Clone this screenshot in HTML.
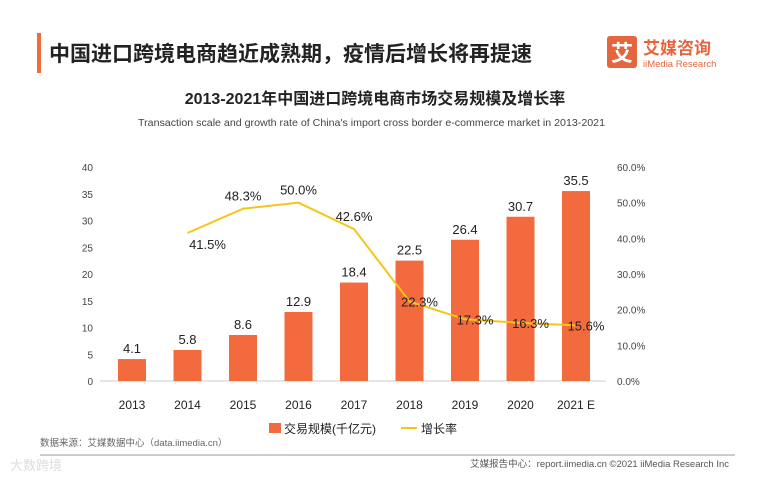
<!DOCTYPE html>
<html><head><meta charset="utf-8">
<style>
body{margin:0;background:#fff;width:761px;height:479px;overflow:hidden;font-family:"Liberation Sans","Noto Sans CJK SC",sans-serif;}
</style></head>
<body>
<svg width="761" height="479" xmlns="http://www.w3.org/2000/svg" style="position:absolute;left:0;top:0" font-family="Liberation Sans, Noto Sans CJK SC, sans-serif">
<rect x="37" y="33" width="4" height="40" fill="#f26a3d"/>
<text x="49" y="61" font-size="21" font-weight="bold" fill="#222">中国进口跨境电商趋近成熟期，疫情后增长将再提速</text>
<g>
<rect x="607" y="36" width="30" height="32" rx="3" fill="#e4663f"/>
<text x="622" y="61" font-size="22" font-weight="bold" fill="#fff" text-anchor="middle">艾</text>
<text x="643" y="54" font-size="17" font-weight="bold" fill="#e4663f">艾媒咨询</text>
<text x="643" y="67" font-size="9.5" fill="#e4663f">iiMedia Research</text>
</g>
<text x="375" y="104" font-size="16" font-weight="bold" fill="#222" text-anchor="middle">2013-2021年中国进口跨境电商市场交易规模及增长率</text>
<text x="138" y="126" font-size="10.5" fill="#444" textLength="467" lengthAdjust="spacingAndGlyphs">Transaction scale and growth rate of China's import cross border e-commerce market in 2013-2021</text>
<g id="chart"></g>
<g>
<rect x="269" y="423" width="12" height="10" fill="#f26a3d"/>
<text x="284" y="433" font-size="12" fill="#222">交易规模(千亿元)</text>
<line x1="401" y1="428" x2="417" y2="428" stroke="#f5c518" stroke-width="2"/>
<text x="421" y="433" font-size="12" fill="#222">增长率</text>
</g>
<text x="40" y="446" font-size="9.5" fill="#666">数据来源：艾媒数据中心（data.iimedia.cn）</text>
<line x1="40" y1="455" x2="735" y2="455" stroke="#999" stroke-width="1"/>
<text x="10" y="470" font-size="13" fill="#ddd">大数跨境</text>
<text x="729" y="467" font-size="9.5" fill="#555" text-anchor="end">艾媒报告中心：report.iimedia.cn   ©2021  iiMedia Research  Inc</text>
</svg>
<script>
const categories=["2013","2014","2015","2016","2017","2018","2019","2020","2021 E"];
const scaleValues=[4.1,5.8,8.6,12.9,18.4,22.5,26.4,30.7,35.5];
const growthValues=[null,41.5,48.3,50.0,42.6,22.3,17.3,16.3,15.6];
const leftTicks=[0,5,10,15,20,25,30,35,40];
const rightTicks=[0,10,20,30,40,50,60];
const NS="http://www.w3.org/2000/svg";
const g=document.getElementById('chart');
const y0=381,yTop=167,x0=132,step=55.5;
const yL=v=>y0-(v/40)*(y0-yTop);
const yR=v=>y0-(v/60)*(y0-yTop);
const xC=i=>x0+i*step;
function mk(t,a,txt){const e=document.createElementNS(NS,t);for(const k in a)e.setAttribute(k,a[k]);if(txt!=null)e.textContent=txt;g.appendChild(e);return e;}
leftTicks.forEach(v=>{const e=mk('text',{x:93,y:yL(v)+4,'font-size':10,fill:'#444','text-anchor':'end'},v);

});
rightTicks.forEach(v=>{const e=mk('text',{x:617,y:yR(v)+4,'font-size':10,fill:'#444'},v.toFixed(1)+'%');

});
const ax=mk('line',{x1:100,y1:y0,x2:606,y2:y0,stroke:'#ccc','stroke-width':1});


categories.forEach((c,i)=>{
const v=scaleValues[i];
const b=mk('rect',{x:xC(i)-14,y:yL(v),width:28,height:y0-yL(v),fill:'#f26a3d'});


const l=mk('text',{x:xC(i),y:yL(v)-6,'font-size':13,fill:'#222','text-anchor':'middle'},v);


const t=mk('text',{x:xC(i),y:409,'font-size':12,fill:'#222','text-anchor':'middle'},c);


});
let d='';
growthValues.forEach((v,i)=>{if(v==null)return;d+=(d?'L':'M')+xC(i)+','+yR(v);});
const ln=mk('path',{d:d,fill:'none',stroke:'#f5c518','stroke-width':2});


growthValues.forEach((v,i)=>{if(v==null)return;
const e=mk('text',{x:xC(i)+(i===1?20:i>=5?10:0),y:yR(v)+(i===1?16:i>=5?5:-8),'font-size':13,fill:'#222','text-anchor':'middle'},v.toFixed(1)+'%');

});
</script>
</body></html>
